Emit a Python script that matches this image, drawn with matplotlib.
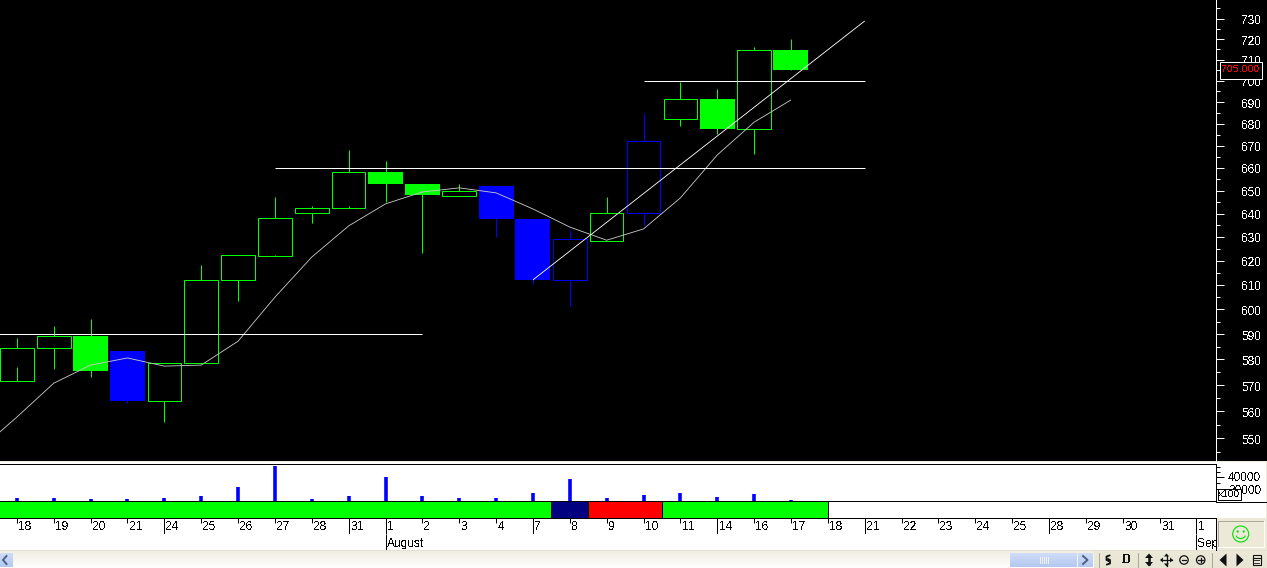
import numpy as np
import matplotlib
matplotlib.use("Agg")
import matplotlib.pyplot as plt
from matplotlib.patches import Rectangle, Polygon, Circle, Arc
from matplotlib.ticker import NullFormatter
from matplotlib.transforms import ScaledTranslation

plt.rcParams['font.family'] = ['Liberation Sans', 'DejaVu Sans']
plt.rcParams['text.antialiased'] = False
plt.rcParams['text.hinting'] = 'native'

# ---------- data ----------
day_labels = ['18','19','20','21','24','25','26','27','28','31','1','2','3','4','7','8','9',
              '10','11','14','16','17','18','21','22','23','24','25','28','29','30','31','1']
week_start_idx = [4, 9, 10, 14, 19, 23, 28, 32]
month_idx = [10, 32]
month_names = ['August', 'Sep']

body_top = [584.5,589.3,589.3,583.3,578.6,612.0,622.3,638.1,642.4,658.2,658.2,652.9,649.8,652.0,637.7,629.0,640.2,672.1,691.4,691.4,714.6,714.6]
body_bot = [571.7,584.5,575.5,563.9,563.9,578.6,612.0,621.9,640.2,642.4,652.9,648.1,647.7,637.7,612.0,612.0,628.2,640.2,682.1,677.6,677.6,705.1]
high     = [588.5,593.3,596.1,583.3,578.6,618.2,622.3,647.2,643.2,668.1,663.2,652.9,652.9,652.0,637.7,633.0,647.2,684.9,699.4,696.1,716.1,719.9]
low      = [571.7,576.3,573.2,563.2,555.9,578.6,603.3,621.9,635.9,642.4,645.0,623.2,647.7,629.9,610.3,601.3,628.2,635.1,678.9,675.3,666.3,705.1]
filled   = [0,0,1,1,0,0,0,0,0,0,1,1,0,1,1,0,0,0,0,1,0,1]
is_blue  = [0,0,0,1,0,0,0,0,0,0,0,0,0,1,1,1,0,1,0,0,0,0]
inner_stub_idx = [0, 7, 9]
inner_stub_top = [577.1, 622.5, 643.1]
inner_stub_bot = [571.7, 621.9, 642.4]

ma_idx = list(range(-1, 22))
ma_val = [545.9,557.9,570.8,577.8,580.6,577.4,577.8,587.2,604.9,621.5,634.7,644.2,649.4,651.2,649.0,642.0,634.2,628.6,633.4,646.8,665.8,680.7,691.0]

hlines_val = [590.0, 659.8, 699.9]
hlines_from = [-1, 7, 17]
hlines_to = [11, 23, 23]
trend_idx = [14, 23]
trend_val = [612.0, 728.8]

volume = [24650,24650,24100,24100,24650,25800,31650,51000,24100,25800,39700,25800,24650,24650,27600,38000,24650,26400,27600,25200,27000,23550]

band_edges = [-1, 14.5, 15.5, 17.5, 22]
band_colors = ['#00ff00', '#000080', '#ff0000', '#00ff00']

price_ticks = list(range(550, 740, 10))
price_minor = list(range(545, 740, 10))
vol_ticks = [30000, 40000]
vol_minor = [35000, 45000, 50000]
last_price = '705.000'

# ---------- layout (pixels) ----------
W, H = 1267, 568
PX0 = 16.9; PXS = 36.86; PANEL_W = 1215.7
px = 72 / 100
lw = 0.72
thin = 0.62   # sloped lines

def rect(top, bottom, left=0, right=PANEL_W):
    return [left / W, 1 - bottom / H, (right - left) / W, (bottom - top) / H]

xlim = ((0 - PX0) / PXS, (PANEL_W - PX0) / PXS)
fig = plt.figure(figsize=(W / 100, H / 100), dpi=100, facecolor='white')

# chrome below everything
bg = fig.add_axes([0, 0, 1, 1], zorder=0)
bg.axis('off')
def grad(x0, x1, y0, y1, c0, c1, z=1):
    c0 = np.array(matplotlib.colors.to_rgb(c0)); c1 = np.array(matplotlib.colors.to_rgb(c1))
    t = np.linspace(0, 1, 32)[:, None, None]
    bg.imshow(c0 + (c1 - c0) * t, extent=(x0, x1, y1, y0), aspect='auto', zorder=z, interpolation='bilinear')

bg.add_patch(Rectangle((0, 0), W, 461, fc='black', ec='none', zorder=1))
bg.add_patch(Rectangle((0, 461), W, 107, fc='white', ec='none', zorder=1))
bg.add_patch(Rectangle((0, 461), W, 1.3, fc='#ece9d8', ec='none', zorder=2))
bg.add_patch(Rectangle((1216, 518), 51, 33, fc='#ece9d8', ec='none', zorder=2))
bg.add_patch(Rectangle((1266, 462), 1, 106, fc='#ece9d8', ec='none', zorder=2))
grad(0, W, 551, 568, '#f0eee3', '#fefefc')
grad(1094, W, 551, 568, '#ece9d8', '#e8e5d4', z=2)
bg.add_patch(Rectangle((0, 550), W, 1, fc='#e4e1d2', ec='none', zorder=3))
grad(1010, 1077, 553.5, 567, '#d0dcf8', '#b4c8f0', z=3)
grad(1078, 1093, 553.5, 567, '#d0dcf8', '#b4c8f0', z=3)
grad(0, 12.5, 553.5, 567, '#d0dcf8', '#b4c8f0', z=3)
bg.plot([6.5, 3, 6.5], [556, 560, 564], color='#4d6185', lw=1.4, zorder=4)
bg.plot([1083, 1087.5, 1083], [556, 560, 564], color='#4d6185', lw=1.4, zorder=4)
for gx in (1040, 1042, 1044, 1046, 1048):
    bg.plot([gx, gx], [557, 563], color='#eef3fd', lw=0.7, zorder=4)
for sx in (1099, 1137.7, 1212):
    bg.plot([sx, sx], [553, 567], color='#aca899', lw=0.7, zorder=4)
ico = '#111111'
bg.plot([1109.5, 1106.5, 1106.5, 1108.5], [555.5, 556.5, 560, 561], color=ico, lw=1.3, zorder=4)
bg.plot([1107, 1110, 1110, 1108], [564.5, 563.5, 560, 559], color=ico, lw=1.3, zorder=4)
bg.text(1126, 560, 'D', family='Liberation Serif', weight='bold', fontsize=12.5 * px, ha='center', va='center', color=ico, zorder=4)
bg.add_patch(Polygon([(1145, 558), (1149, 553.5), (1153, 558)], fc=ico, ec='none', zorder=4))
bg.add_patch(Polygon([(1145, 562), (1149, 566.5), (1153, 562)], fc=ico, ec='none', zorder=4))
bg.plot([1149, 1149], [556, 564], color=ico, lw=1.8, zorder=4)
bg.plot([1161, 1172], [560, 560], color=ico, lw=0.9, zorder=4)
bg.plot([1166.5, 1166.5], [554.5, 565.5], color=ico, lw=0.9, zorder=4)
for p in ([(1160, 560), (1163, 557.5), (1163, 562.5)], [(1173, 560), (1170, 557.5), (1170, 562.5)],
          [(1166.5, 553.5), (1164, 556.5), (1169, 556.5)], [(1166.5, 566.5), (1164, 563.5), (1169, 563.5)]):
    bg.add_patch(Polygon(p, fc=ico, ec='none', zorder=4))
for cx in (1184, 1200.7):
    bg.add_patch(Circle((cx, 560), 4.2, fc='none', ec=ico, lw=0.9, zorder=4))
    bg.plot([cx - 2.3, cx + 2.3], [560, 560], color=ico, lw=0.9, zorder=4)
bg.plot([1200.7, 1200.7], [557.7, 562.3], color=ico, lw=0.9, zorder=4)
bg.add_patch(Polygon([(1226.5, 553.5), (1226.5, 566.5), (1219.5, 560)], fc=ico, ec='none', zorder=4))
bg.add_patch(Polygon([(1236.5, 553.5), (1236.5, 566.5), (1243.5, 560)], fc=ico, ec='none', zorder=4))
bg.add_patch(Rectangle((1252.5, 555), 8, 10, fc='#ece9d8', ec=ico, lw=0.8, zorder=4))
bg.plot([1252.5, 1260.5], [557.5, 557.5], color=ico, lw=0.8, zorder=5)
bg.plot([1254, 1259], [560, 560], color=ico, lw=0.6, zorder=5)
bg.plot([1254, 1259], [562.5, 562.5], color=ico, lw=0.6, zorder=5)
# smiley box
bg.add_patch(Rectangle((1218, 520.5), 45.5, 26.5, fc='#ece9d8', ec='none', zorder=3))
bg.plot([1218, 1218, 1263.5], [547, 520.5, 520.5], color='#aca899', lw=0.7, zorder=4)
bg.plot([1218, 1263.5, 1263.5], [547, 547, 520.5], color='#ffffff', lw=0.7, zorder=4)
bg.add_patch(Circle((1240.7, 534), 8, fc='none', ec='#00e000', lw=0.8, zorder=4))
bg.add_patch(Circle((1237.7, 531.5), 1.1, fc='#00e000', ec='none', zorder=4))
bg.add_patch(Circle((1243.7, 531.5), 1.1, fc='#00e000', ec='none', zorder=4))
bg.add_patch(Arc((1240.7, 534), 10, 9, theta1=20, theta2=160, ec='#00e000', lw=0.8, zorder=4))
bg.plot([PANEL_W, 1266], [501.5, 501.5], color='black', lw=lw, snap=True, zorder=4)
bg.set_xlim(0, W); bg.set_ylim(H, 0)

# ---------- price panel ----------
ax = fig.add_axes(rect(0, 461), zorder=2, facecolor='black')
ax.set_yscale('log')
x = np.arange(len(body_top))
for i in x:
    col = '#0000ff' if is_blue[i] else '#00ff00'
    ax.vlines(i, low[i], high[i], color=col, lw=lw, snap=True, capstyle='butt', zorder=2)
    w = 0.95 if filled[i] else 0.91
    ax.add_patch(Rectangle((i - w / 2, body_bot[i]), w, body_top[i] - body_bot[i],
                           fc=col if filled[i] else 'black', ec='none' if filled[i] else col,
                           lw=lw, snap=True, zorder=3))
for i, t, b in zip(inner_stub_idx, inner_stub_top, inner_stub_bot):
    ax.vlines(i, b, t, color='#00ff00', lw=lw, snap=True, capstyle='butt', zorder=4)
ax.plot(ma_idx, ma_val, color='#c8c8c8', lw=thin, solid_capstyle='butt', zorder=5)
ax.hlines(hlines_val, hlines_from, hlines_to, color='white', lw=lw, snap=True, capstyle='butt', zorder=6)
ax.plot(trend_idx, trend_val, color='white', lw=thin, solid_capstyle='butt', zorder=6)
ax.set_xlim(*xlim)
ax.set_ylim(541.6, 739.2)
for s in ('left', 'top', 'bottom'):
    ax.spines[s].set_visible(False)
ax.spines['right'].set_color('white'); ax.spines['right'].set_linewidth(lw)
ax.set_xticks([])
ax.set_yticks(price_ticks, labels=[str(v) for v in price_ticks])
ax.set_yticks(price_minor, minor=True)
ax.yaxis.set_minor_formatter(NullFormatter())
ax.yaxis.tick_right()
ax.tick_params(axis='y', which='major', length=8 * px, width=lw, color='white', labelcolor='white', labelsize=12 * px, pad=17.5 * px)
ax.tick_params(axis='y', which='minor', length=3.5 * px, width=lw, color='white')
down = ScaledTranslation(0, -1 / 100, fig.dpi_scale_trans)
for lab in ax.get_yticklabels():
    lab.set_transform(lab.get_transform() + down)

# ---------- volume panel ----------
av = fig.add_axes(rect(464, 501), zorder=2, facecolor='white')
av.set_yscale('log')
av.vlines(x, 23030, volume, color='#0000ff', lw=3.6 * px, capstyle='butt', snap=True)
av.set_xlim(*xlim); av.set_ylim(23030, 53400)
av.set_xticks([])
for s in ('left', 'bottom'):
    av.spines[s].set_visible(False)
av.spines['top'].set_linewidth(lw); av.spines['right'].set_linewidth(lw)
av.set_yticks(vol_ticks, labels=[str(v) for v in vol_ticks])
av.set_yticks(vol_minor, minor=True)
av.yaxis.set_minor_formatter(NullFormatter())
av.yaxis.tick_right()
av.tick_params(axis='y', which='major', length=7.5 * px, width=lw, labelsize=12 * px, pad=5 * px)
av.tick_params(axis='y', which='minor', length=4 * px, width=lw)

# ---------- status band ----------
ab = fig.add_axes(rect(501, 518), zorder=3, facecolor='white')
ab.bar(band_edges[:-1], [1] * len(band_colors), width=np.diff(band_edges), align='edge',
       color=band_colors, edgecolor='black', lw=lw, snap=True)
ab.set_xlim(*xlim); ab.set_ylim(0, 1)
ab.set_xticks([]); ab.set_yticks([])
for s in ('left', 'right', 'bottom'):
    ab.spines[s].set_visible(False)
ab.spines['top'].set_linewidth(lw)

# ---------- day axis ----------
ad = fig.add_axes(rect(518, 534), zorder=3, facecolor='white')
ad.set_xlim(*xlim); ad.set_ylim(0, 1)
ad.set_yticks([])
short = [i for i in range(len(day_labels)) if i not in week_start_idx]
ad.set_xticks(short, labels=[''] * len(short))
ad.set_xticks(week_start_idx, labels=[''] * len(week_start_idx), minor=True)
ad.xaxis.tick_top()
ad.tick_params(axis='x', which='major', direction='in', length=4.5 * px, width=lw)
ad.tick_params(axis='x', which='minor', direction='in', length=16 * px, width=lw)
ad.spines['left'].set_visible(False)
for s in ('top', 'bottom', 'right'):
    ad.spines[s].set_linewidth(lw)
tr = ad.get_xaxis_transform()
for i, lab in enumerate(day_labels):
    t = ad.annotate(lab, xy=(i, 0.45), xycoords=tr, xytext=(1.5 * px, 0), textcoords='offset points',
                    fontsize=12 * px, va='center', ha='left', color='black', annotation_clip=False)
    t.set_clip_on(True); t.set_clip_path(ad.patch)

# ---------- month axis ----------
am = fig.add_axes(rect(534, 550), zorder=3, facecolor='white')
am.set_xlim(*xlim); am.set_ylim(0, 1)
am.set_yticks([]); am.set_xticks([])
for s in ('left', 'top', 'bottom'):
    am.spines[s].set_visible(False)
am.spines['right'].set_linewidth(lw)
am.vlines(month_idx, 0, 1, color='black', lw=lw, snap=True)
tr = am.get_xaxis_transform()
for i, lab in zip(month_idx, month_names):
    t = am.annotate(lab, xy=(i, 0.42), xycoords=tr, xytext=(1.5 * px, 0), textcoords='offset points',
                    fontsize=12 * px, va='center', ha='left', color='black', annotation_clip=False)
    t.set_clip_on(True); t.set_clip_path(am.patch)

# ---------- overlay boxes ----------
ov = fig.add_axes([0, 0, 1, 1], zorder=5)
ov.axis('off'); ov.patch.set_alpha(0)
ov.set_xlim(0, W); ov.set_ylim(H, 0)
ov.add_patch(Rectangle((1219.5, 61.5), 42, 17, fc='black', ec='white', lw=lw, snap=True))
ov.text(1240.5, 70, last_price, color='#ff0000', fontsize=10.5 * px, ha='center', va='center')
ov.add_patch(Rectangle((1217.5, 488.5), 23, 11, fc='white', ec='black', lw=lw, snap=True))
ov.text(1229, 494.2, 'x100', color='black', fontsize=10 * px, ha='center', va='center')

fig.savefig('out.png', dpi=100)
